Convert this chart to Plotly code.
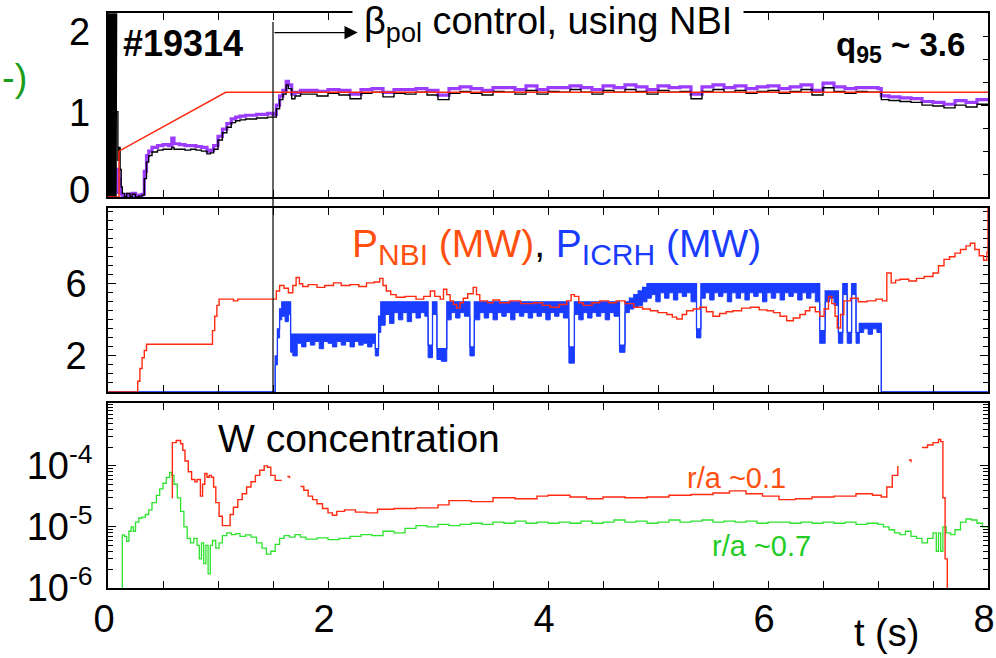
import plotly.graph_objects as go

# ---------------- data ----------------
T_CONTROL = 1.5  # start of beta_pol control (s)

# top panel: beta_pol (black = measured, purple = alt. measurement, red = reference)
t_burst = [0.000, 0.006, 0.012, 0.018, 0.024, 0.030, 0.036, 0.042, 0.048, 0.054,
           0.060, 0.066, 0.072, 0.078]
burst = [0, 2.3, 0, 2.3, 0, 2.3, 0, 2.3, 0, 2.3, 0, 2.3, 0, 2.3]

t_top = [0.08, 0.09, 0.10, 0.11, 0.12, 0.13, 0.15, 0.17, 0.20, 0.22,
         0.25, 0.28, 0.31, 0.33, 0.35, 0.37, 0.40, 0.45, 0.50, 0.55,
         0.58, 0.60, 0.65, 0.70, 0.75, 0.80, 0.85, 0.90, 0.93, 0.96,
         1.00, 1.04, 1.08, 1.12, 1.16, 1.20, 1.25, 1.30, 1.35, 1.40,
         1.45, 1.50, 1.53, 1.56, 1.59, 1.62, 1.64, 1.67, 1.70, 1.75,
         1.8, 1.9, 2.0, 2.1, 2.2, 2.3, 2.4, 2.5, 2.6, 2.7,
         2.8, 2.9, 3.0, 3.1, 3.2, 3.3, 3.4, 3.5, 3.6, 3.7,
         3.8, 3.9, 4.0, 4.1, 4.2, 4.3, 4.4, 4.5, 4.6, 4.7,
         4.8, 4.9, 5.0, 5.1, 5.2, 5.3, 5.4, 5.5, 5.6, 5.7,
         5.8, 5.9, 6.0, 6.1, 6.2, 6.3, 6.4, 6.5, 6.6, 6.7,
         6.8, 6.9, 7.0, 7.03, 7.1, 7.2, 7.3, 7.4, 7.5, 7.6,
         7.7, 7.8, 7.9, 8.0]
beta_black = [0.93, 0.40, 0.54, 0.30, 0.11, 0.04, 0.00, 0.04, 0.00, 0.03,
              0.00, 0.01, 0.02, 0.20, 0.38, 0.45, 0.49, 0.51, 0.52, 0.52,
              0.54, 0.52, 0.52, 0.51, 0.52, 0.51, 0.50, 0.47, 0.48, 0.52,
              0.62, 0.70, 0.76, 0.81, 0.83, 0.84, 0.85, 0.85, 0.86, 0.86,
              0.87, 0.87, 0.96, 1.06, 1.12, 1.22, 1.18, 1.07, 1.10, 1.12,
              1.12, 1.10, 1.13, 1.11, 1.07, 1.13, 1.14, 1.09, 1.13, 1.12,
              1.14, 1.11, 1.06, 1.13, 1.15, 1.13, 1.11, 1.15, 1.14, 1.12,
              1.16, 1.12, 1.15, 1.14, 1.17, 1.14, 1.12, 1.16, 1.14, 1.17,
              1.15, 1.12, 1.16, 1.14, 1.15, 1.07, 1.15, 1.17, 1.14, 1.16,
              1.13, 1.15, 1.16, 1.13, 1.15, 1.17, 1.11, 1.19, 1.15, 1.13,
              1.15, 1.14, 1.14, 1.06, 1.05, 1.04, 1.03, 1.00, 0.99, 0.97,
              1.00, 0.98, 1.01, 1.00]
beta_purple = [0.05, 0.30, 0.20, 0.10, 0.03, 0.00, 0.00, 0.03, 0.00, 0.04,
               0.00, 0.02, 0.03, 0.28, 0.45, 0.50, 0.54, 0.56, 0.57, 0.56,
               0.64, 0.58, 0.57, 0.56, 0.56, 0.55, 0.54, 0.50, 0.51, 0.56,
               0.66, 0.74, 0.80, 0.85, 0.87, 0.88, 0.89, 0.89, 0.90, 0.90,
               0.91, 0.90, 1.00, 1.10, 1.16, 1.26, 1.22, 1.12, 1.14, 1.16,
               1.16, 1.15, 1.17, 1.16, 1.12, 1.17, 1.18, 1.14, 1.17, 1.17,
               1.18, 1.16, 1.11, 1.18, 1.20, 1.18, 1.16, 1.19, 1.19, 1.17,
               1.21, 1.17, 1.19, 1.19, 1.21, 1.19, 1.17, 1.21, 1.19, 1.22,
               1.20, 1.17, 1.21, 1.19, 1.20, 1.12, 1.20, 1.22, 1.19, 1.21,
               1.18, 1.20, 1.21, 1.18, 1.20, 1.22, 1.16, 1.24, 1.20, 1.18,
               1.19, 1.19, 1.18, 1.10, 1.09, 1.08, 1.07, 1.04, 1.03, 1.01,
               1.05, 1.03, 1.06, 1.05]
t_ref = [0.0, 0.1, 0.1, 1.07, 8.0]
beta_ref = [0.0, 0.0, 0.5, 1.14, 1.14]

# middle panel: heating powers (MW)
t_nbi = [0, 0.25, 0.27, 0.29, 0.31, 0.33, 0.35, 0.93, 0.95, 0.97,
         0.99, 1.01, 1.14, 1.18, 1.5, 1.53, 1.56, 1.6, 1.64, 1.68,
         1.71, 1.74, 1.77, 1.82, 1.9, 1.97, 2.05, 2.12, 2.2, 2.28,
         2.35, 2.42, 2.47, 2.5, 2.53, 2.57, 2.62, 2.7, 2.8, 2.87,
         2.93, 2.97, 3.02, 3.05, 3.08, 3.11, 3.14, 3.17, 3.2, 3.23,
         3.27, 3.32, 3.35, 3.38, 3.45, 3.5, 3.56, 3.65, 3.75, 3.87,
         3.95, 4.02, 4.1, 4.17, 4.21, 4.24, 4.28, 4.32, 4.4, 4.47,
         4.55, 4.62, 4.7, 4.78, 4.86, 4.93, 5.0, 5.08, 5.13, 5.17,
         5.22, 5.26, 5.32, 5.38, 5.44, 5.5, 5.56, 5.62, 5.68, 5.76,
         5.84, 5.92, 5.99, 6.05, 6.11, 6.17, 6.23, 6.29, 6.34, 6.38,
         6.43, 6.47, 6.51, 6.55, 6.58, 6.61, 6.63, 6.66, 6.69, 6.75,
         6.82, 6.9, 6.98, 7.04, 7.08, 7.12, 7.16, 7.2, 7.28, 7.35,
         7.42, 7.5, 7.55, 7.6, 7.65, 7.7, 7.75, 7.8, 7.84, 7.88,
         7.92, 7.96, 7.99, 8.0]
p_nbi = [0, 0, 0.6, 1.3, 1.9, 2.3, 2.65, 2.65, 3.4, 4.2,
         4.8, 5.15, 5.05, 5.15, 5.15, 5.6, 5.9, 5.75, 5.5, 5.9,
         6.35, 6.0, 5.85, 5.95, 5.8, 5.9, 6.05, 5.9, 5.95, 5.85,
         6.05, 6.1, 6.3, 5.9, 5.6, 5.4, 5.25, 5.3, 5.15, 5.3,
         5.6, 5.3, 5.15, 5.7, 5.4, 5.05, 4.85, 4.65, 4.95, 5.2,
         5.45, 5.8, 5.4, 5.05, 4.95, 5.1, 4.95, 5.05, 4.9, 4.95,
         4.8, 4.7, 4.85, 5.05, 5.4, 5.3, 4.95, 4.8, 4.95, 5.05,
         4.95, 5.05, 4.9, 4.7, 4.6, 4.5, 4.4, 4.3, 4.15, 4.05,
         4.3, 4.5, 4.6, 4.7, 4.45, 4.2, 4.35, 4.45, 4.5, 4.65,
         4.7, 4.55, 4.5, 4.4, 4.2, 3.95, 4.1, 4.3, 4.5, 4.7,
         4.45, 4.2, 4.6, 5.3, 4.9, 4.2, 3.55, 4.3, 5.05, 5.2,
         5.0, 5.05, 5.15, 5.05, 6.6, 6.05, 6.2, 6.25, 6.15, 6.3,
         6.4, 6.6, 7.0, 7.35, 7.5, 7.7, 7.9, 8.1, 8.25, 7.9,
         7.55, 7.3, 7.75, 10.5]

t_icrh = [0.00, 1.50, 1.52, 1.54, 1.56, 1.58, 1.61, 1.64, 1.66, 1.68,
          1.72, 1.76, 1.80, 1.84, 1.88, 1.92, 1.96, 2.00, 2.04, 2.08,
          2.12, 2.16, 2.20, 2.24, 2.28, 2.32, 2.36, 2.40, 2.43, 2.46,
          2.48, 2.52, 2.56, 2.60, 2.64, 2.68, 2.72, 2.76, 2.80, 2.84,
          2.88, 2.91, 2.95, 2.99, 3.03, 3.08, 3.12, 3.16, 3.20, 3.24,
          3.29, 3.33, 3.38, 3.42, 3.46, 3.50, 3.54, 3.58, 3.62, 3.66,
          3.70, 3.74, 3.78, 3.82, 3.86, 3.90, 3.94, 3.98, 4.02, 4.06,
          4.10, 4.14, 4.19, 4.24, 4.28, 4.32, 4.36, 4.40, 4.44, 4.48,
          4.52, 4.56, 4.60, 4.65, 4.70, 4.74, 4.78, 4.82, 4.86, 4.90,
          4.94, 4.98, 5.02, 5.06, 5.10, 5.14, 5.18, 5.22, 5.26, 5.30,
          5.35, 5.39, 5.43, 5.47, 5.51, 5.55, 5.59, 5.63, 5.67, 5.71,
          5.75, 5.79, 5.83, 5.87, 5.91, 5.95, 5.99, 6.03, 6.07, 6.11,
          6.15, 6.19, 6.23, 6.27, 6.31, 6.35, 6.39, 6.43, 6.47, 6.52,
          6.56, 6.60, 6.64, 6.68, 6.72, 6.76, 6.80, 6.83, 6.87, 6.91,
          6.95, 6.99, 7.03, 8.00]
p_icrh_hi = [0, 0, 2.0, 3.5, 4.6, 5.0, 5.0, 5.0, 3.2, 3.2,
             3.2, 3.2, 3.2, 3.2, 3.2, 3.2, 3.2, 3.2, 3.2, 3.2,
             3.2, 3.2, 3.2, 3.2, 3.2, 3.2, 3.2, 3.2, 2.4, 4.2,
             5.0, 5.0, 5.0, 5.0, 5.0, 5.0, 5.0, 5.0, 5.0, 5.0,
             5.0, 2.6, 5.0, 2.4, 2.4, 5.0, 5.0, 5.0, 5.0, 5.0,
             2.5, 5.0, 5.0, 5.0, 5.0, 5.0, 5.0, 5.0, 5.0, 5.0,
             5.0, 5.0, 5.0, 5.0, 5.0, 5.0, 5.0, 5.0, 5.0, 5.0,
             5.0, 5.0, 2.5, 5.0, 5.0, 5.0, 5.0, 5.0, 5.0, 5.0,
             5.0, 5.0, 5.0, 2.6, 5.0, 5.2, 5.4, 5.6, 5.8, 6.0,
             6.0, 6.0, 6.0, 6.0, 6.0, 6.0, 6.0, 6.0, 6.0, 6.0,
             3.5, 6.0, 6.0, 6.0, 6.0, 6.0, 6.0, 6.0, 6.0, 6.0,
             6.0, 6.0, 6.0, 6.0, 6.0, 6.0, 6.0, 6.0, 6.0, 6.0,
             6.0, 6.0, 6.0, 6.0, 6.0, 6.0, 6.0, 6.0, 3.4, 5.6,
             5.6, 5.6, 3.3, 6.0, 3.3, 6.0, 3.3, 3.8, 3.8, 3.8,
             3.8, 3.8, 0, 0]
p_icrh_lo = [0, 0, 1.5, 3.0, 4.0, 4.2, 3.9, 4.3, 2.2, 2.0,
             2.7, 2.5, 2.8, 2.6, 2.8, 2.4, 2.8, 2.7, 2.5, 2.8,
             2.6, 2.8, 2.5, 2.8, 2.6, 2.7, 2.5, 2.7, 2.0, 3.3,
             3.7, 4.3, 3.8, 4.4, 4.0, 4.4, 3.9, 4.4, 4.1, 4.4,
             4.2, 1.9, 4.3, 1.8, 1.7, 4.0, 4.4, 4.1, 4.4, 4.2,
             2.0, 4.0, 4.4, 4.1, 4.4, 4.0, 4.4, 4.2, 4.4, 4.0,
             4.4, 4.2, 4.4, 4.1, 4.4, 4.2, 4.4, 4.0, 4.4, 4.2,
             4.4, 4.1, 1.6, 4.3, 4.0, 4.4, 4.1, 4.4, 4.2, 4.4,
             4.0, 4.4, 4.2, 2.2, 4.4, 4.6, 4.7, 4.8, 5.0, 5.2,
             5.4, 5.0, 5.5, 5.2, 5.5, 5.1, 5.5, 5.3, 5.5, 5.0,
             3.0, 5.2, 5.5, 5.1, 5.5, 5.3, 5.5, 5.0, 5.5, 5.2,
             5.5, 5.1, 5.5, 5.3, 5.5, 5.0, 5.5, 5.2, 5.5, 5.1,
             5.5, 5.3, 5.5, 5.1, 5.5, 5.2, 5.5, 5.0, 2.7, 5.0,
             5.2, 4.8, 2.7, 5.4, 2.7, 5.4, 2.7, 3.3, 3.5, 3.2,
             3.5, 3.3, 0, 0]

# bottom panel: W concentration
t_w01 = [0.58, 0.585, 0.62, 0.66, 0.68, 0.70, 0.73, 0.76, 0.79, 0.81,
         0.84, 0.86, 0.88, 0.90, 0.92, 0.94, 0.96, 0.98, 1.01, 1.04,
         1.08, 1.11, 1.14, 1.18, 1.22, 1.26, 1.30, 1.34, 1.38, 1.42,
         1.45, 1.48, 1.52, 1.58, 1.61, 1.63, 1.65, 1.67, 1.75, 1.78,
         1.82, 1.86, 1.90, 1.95, 2.00, 2.04, 2.08, 2.15, 2.25, 2.35,
         2.45, 2.6, 2.8, 3.0, 3.1, 3.3, 3.5, 3.7, 3.9, 4.0,
         4.2, 4.35, 4.5, 4.7, 4.9, 5.1, 5.3, 5.5, 5.65, 5.8,
         5.95, 6.1, 6.25, 6.4, 6.6, 6.8, 6.95, 7.03, 7.08, 7.13,
         7.18, 7.22, 7.28, 7.30, 7.33, 7.40, 7.45, 7.50, 7.55, 7.57,
         7.59, 7.61, 7.63]
w_01 = [3.0e-5, 2.4e-4, 2.6e-4, 2.3e-4, 1.8e-4, 1.2e-4, 8e-5, 6e-5, 5.5e-5, 6e-5,
        3.2e-5, 5e-5, 7.5e-5, 6.5e-5, 7.0e-5, 6.5e-5, 4.5e-5, 2.5e-5, 1.5e-5, 1.05e-5,
        1.05e-5, 1.6e-5, 2.1e-5, 2.8e-5, 3.5e-5, 4.5e-5, 5.5e-5, 7e-5, 8.5e-5, 1.0e-4,
        9.5e-5, 7e-5, 5.8e-5, 5.8e-5, None, 6.7e-5, 6.3e-5, None, 4.6e-5, 4.0e-5,
        3.2e-5, 2.8e-5, 2.4e-5, 2.0e-5, 1.7e-5, 1.55e-5, 1.8e-5, 1.9e-5, 1.75e-5, 1.7e-5,
        1.95e-5, 2.0e-5, 2.05e-5, 2.3e-5, 2.7e-5, 2.6e-5, 3.0e-5, 2.9e-5, 3.2e-5, 3.3e-5,
        3.1e-5, 2.9e-5, 3.1e-5, 3.0e-5, 3.1e-5, 3.3e-5, 3.4e-5, 3.6e-5, 3.9e-5, 3.5e-5,
        3.2e-5, 2.8e-5, 2.9e-5, 3.1e-5, 3.2e-5, 3.5e-5, 3.3e-5, 3.1e-5, 4.5e-5, 7e-5,
        1.0e-4, None, 1.25e-4, 1.15e-4, None, 2.0e-4, 2.2e-4, 2.4e-4, 2.7e-4, 2.5e-4,
        3e-5, 3e-6, 8e-7]

t_w07 = [0.12, 0.13, 0.15, 0.17, 0.19, 0.21, 0.23, 0.25, 0.28, 0.31,
         0.34, 0.37, 0.40, 0.44, 0.47, 0.50, 0.53, 0.56, 0.58, 0.60,
         0.63, 0.66, 0.69, 0.72, 0.75, 0.78, 0.81, 0.83, 0.85, 0.87,
         0.89, 0.91, 0.93, 0.95, 0.98, 1.01, 1.04, 1.08, 1.12, 1.16,
         1.20, 1.25, 1.30, 1.35, 1.40, 1.44, 1.48, 1.52, 1.56, 1.60,
         1.65, 1.70, 1.75, 1.80, 1.90, 2.00, 2.1, 2.2, 2.3, 2.4,
         2.5, 2.6, 2.7, 2.8, 2.9, 3.0, 3.1, 3.2, 3.3, 3.4,
         3.5, 3.6, 3.7, 3.8, 3.9, 4.0, 4.1, 4.2, 4.3, 4.4,
         4.5, 4.6, 4.7, 4.8, 4.9, 5.0, 5.1, 5.2, 5.3, 5.4,
         5.5, 5.6, 5.7, 5.8, 5.9, 6.0, 6.1, 6.2, 6.3, 6.4,
         6.5, 6.6, 6.7, 6.8, 6.9, 7.0, 7.05, 7.1, 7.15, 7.2,
         7.25, 7.3, 7.35, 7.4, 7.45, 7.5, 7.53, 7.55, 7.57, 7.59,
         7.62, 7.66, 7.7, 7.75, 7.8, 7.85, 7.9, 7.95, 8.0]
w_07 = [8e-7, 7.4e-6, 7e-6, 5.8e-6, 8.5e-6, 1.0e-5, 8.5e-6, 1.2e-5, 1.4e-5, 1.45e-5,
        1.6e-5, 1.9e-5, 2.5e-5, 3.3e-5, 4.2e-5, 5.2e-5, 6.5e-5, 7.8e-5, 7.0e-5, 5e-5,
        3e-5, 1.8e-5, 1.0e-5, 6.5e-6, 5.5e-6, 6.5e-6, 5e-6, 3e-6, 5.5e-6, 2.5e-6,
        5e-6, 1.7e-6, 5e-6, 6e-6, 4.5e-6, 5.5e-6, 7.2e-6, 8e-6, 7.5e-6, 7.8e-6,
        7e-6, 7.4e-6, 6.8e-6, 5.5e-6, 4.5e-6, 3.6e-6, 4.0e-6, 5.2e-6, 6.5e-6, 7.2e-6,
        6.8e-6, 7.5e-6, 6.8e-6, 6.3e-6, 6.6e-6, 6.2e-6, 6.5e-6, 7.0e-6, 7.5e-6, 7.2e-6,
        8.5e-6, 8.0e-6, 9.5e-6, 1.05e-5, 1.0e-5, 1.1e-5, 1.05e-5, 1.1e-5, 1.15e-5, 1.1e-5,
        1.2e-5, 1.15e-5, 1.25e-5, 1.15e-5, 1.2e-5, 1.15e-5, 1.2e-5, 1.15e-5, 1.25e-5, 1.15e-5,
        1.2e-5, 1.3e-5, 1.2e-5, 1.25e-5, 1.15e-5, 1.2e-5, 1.3e-5, 1.2e-5, 1.25e-5, 1.3e-5,
        1.2e-5, 1.25e-5, 1.2e-5, 1.25e-5, 1.15e-5, 1.2e-5, 1.2e-5, 1.15e-5, 1.2e-5, 1.15e-5,
        1.2e-5, 1.15e-5, 1.2e-5, 1.1e-5, 1.15e-5, 1.1e-5, 1.0e-5, 9e-6, 8e-6, 7.5e-6,
        8.5e-6, 7e-6, 6.5e-6, 5.5e-6, 6.5e-6, 8e-6, 4e-6, 8e-6, 4e-6, 1.0e-5,
        8e-6, 7.5e-6, 9e-6, 1.2e-5, 1.35e-5, 1.3e-5, 1.15e-5, 1.0e-5, 9.5e-6]

x_ticks = [0, 2, 4, 6, 8]
y1_ticks = [0, 1, 2]
y1_labels = ["0", "1", "2"]
y2_ticks = [2, 6]
y2_labels = ["2", "6"]
y3_ticks = [1e-6, 1e-5, 1e-4]
y3_labels = ["10<sup>-6</sup>", "10<sup>-5</sup>", "10<sup>-4</sup>"]

# ---------------- figure ----------------
W, H = 996, 658
FONT = "Liberation Sans, Arial, Helvetica, sans-serif"


def px(x):
    return x / W


def py(y):
    return 1 - y / H


RED = "#ff2a10"
ORANGE = "#ff5010"
BLUE = "#1a3cff"
GREEN = "#2ee32e"
PURPLE = "#9b3cff"

fig = go.Figure()

# top panel
fig.add_trace(go.Scatter(x=t_top, y=beta_purple, mode="lines", line=dict(color=PURPLE, width=3.2, shape="hv"),
                         xaxis="x", yaxis="y"))
fig.add_trace(go.Scatter(x=t_top, y=beta_black, mode="lines", line=dict(color="black", width=1.4, shape="hv"),
                         xaxis="x", yaxis="y"))
fig.add_trace(go.Scatter(x=t_burst, y=burst, mode="lines", line=dict(color="black", width=1.6),
                         xaxis="x", yaxis="y"))
fig.add_trace(go.Scatter(x=t_ref, y=beta_ref, mode="lines", line=dict(color=RED, width=1.5),
                         xaxis="x", yaxis="y"))

# middle panel
fig.add_trace(go.Scatter(x=t_icrh, y=p_icrh_lo, mode="lines", line=dict(color=BLUE, width=1.0, shape="hv"),
                         xaxis="x2", yaxis="y2"))
fig.add_trace(go.Scatter(x=t_icrh, y=p_icrh_hi, mode="lines", line=dict(color=BLUE, width=1.3, shape="hv"),
                         fill="tonexty", fillcolor=BLUE, xaxis="x2", yaxis="y2"))
fig.add_trace(go.Scatter(x=t_nbi, y=p_nbi, mode="lines", line=dict(color=RED, width=1.4, shape="hv"),
                         xaxis="x2", yaxis="y2"))

# bottom panel
fig.add_trace(go.Scatter(x=t_w07, y=w_07, mode="lines", line=dict(color=GREEN, width=1.3, shape="hv"),
                         xaxis="x3", yaxis="y3"))
fig.add_trace(go.Scatter(x=t_w01, y=w_01, mode="lines", line=dict(color=RED, width=1.4, shape="hv"),
                         connectgaps=False, xaxis="x3", yaxis="y3"))

tickfont = dict(family=FONT, size=38, color="black")
xdom = [px(108), px(988)]


def xaxis(anchor, labels):
    return dict(domain=xdom, anchor=anchor, range=[0, 8], showline=True, linecolor="black", linewidth=1.5,
                mirror="ticks", ticks="inside", tickvals=x_ticks, ticklen=7, tickwidth=1.2, tickcolor="black",
                minor=dict(dtick=0.5, tick0=0, ticks="inside", ticklen=7, tickwidth=1.2, tickcolor="black"),
                showticklabels=labels, tickfont=tickfont, showgrid=False, zeroline=False,
                automargin=False, ticklabelstandoff=-3, ticklabelshift=-4, ticklabeloverflow="allow")


minor_log = [m * 10.0 ** e for e in (-6, -5, -4) for m in range(2, 10)] + [1e-3]

fig.update_layout(
    width=W, height=H,
    margin=dict(l=0, r=0, t=0, b=0),
    paper_bgcolor="white", plot_bgcolor="white",
    showlegend=False,
    font=dict(family=FONT, color="black"),
    xaxis=xaxis("y", False),
    xaxis2=xaxis("y2", False),
    xaxis3=xaxis("y3", True),
    yaxis=dict(domain=[py(197), py(13.3)], anchor="x", range=[0, 2], showline=True, linecolor="black",
               linewidth=1.5, mirror="ticks", ticks="inside", tickvals=y1_ticks,
               ticklen=7, tickwidth=1.2, tickcolor="black", showticklabels=False,
               minor=dict(dtick=0.25, tick0=0, ticks="inside", ticklen=5, tickwidth=1, tickcolor="black"),
               showgrid=False, zeroline=False, automargin=False),
    yaxis2=dict(domain=[py(392), py(208)], anchor="x2", range=[0, 10.2], showline=True, linecolor="black",
                linewidth=1.5, mirror="ticks", ticks="inside", tickvals=y2_ticks, ticktext=y2_labels,
                ticklen=8, tickwidth=1.2, tickcolor="black", layer="below traces",
                minor=dict(dtick=0.5, tick0=0, ticks="inside", ticklen=5, tickwidth=1, tickcolor="black"),
                tickfont=tickfont, showgrid=False, zeroline=False, automargin=False, ticklabelstandoff=12,
                ticklabeloverflow="allow"),
    yaxis3=dict(domain=[py(588), py(403)], anchor="x3", type="log", range=[-6, -2.97], showline=True,
                linecolor="black", linewidth=1.5, mirror="ticks", ticks="inside", tickvals=y3_ticks,
                ticktext=y3_labels, ticklen=8, tickwidth=1.2, tickcolor="black",
                minor=dict(tickvals=minor_log, ticks="inside", ticklen=5, tickwidth=1, tickcolor="black"),
                tickfont=tickfont, showgrid=False, zeroline=False, automargin=False, ticklabelstandoff=6,
                ticklabeloverflow="allow"),
)

# vertical marker at start of beta_pol control
fig.add_shape(type="line", xref="x", yref="paper", x0=T_CONTROL, x1=T_CONTROL, y0=py(392), y1=py(22),
              line=dict(color="black", width=1.2))

sub = "<sub><span style='font-size:{}px'>{}</span></sub>"
annotations = [
    dict(text="β" + sub.format(27, "pol") + " control, using NBI", xref="paper", yref="paper",
         x=px(352), y=py(24), xanchor="left", yanchor="middle", showarrow=False, bgcolor="white",
         borderpad=11, font=dict(family=FONT, size=38, color="black")),
    dict(text="", xref="x", yref="y", x=2.27, y=1.79, axref="x", ayref="y", ax=T_CONTROL, ay=1.79,
         showarrow=True, arrowhead=2, arrowsize=2.2, arrowwidth=1.2, arrowcolor="black"),
    dict(text="<b>#19314</b>", xref="paper", yref="paper", x=px(121), y=py(43), xanchor="left",
         yanchor="middle", showarrow=False, font=dict(family=FONT, size=36, color="black")),
    dict(text="<b>q<sub>95</sub> ~ 3.6</b>", xref="paper", yref="paper", x=px(967), y=py(47),
         xanchor="right", yanchor="middle", showarrow=False, font=dict(family=FONT, size=33, color="black")),
    dict(text=f"<span style='color:{ORANGE}'>P" + sub.format(30, "NBI") + " (MW)</span>, "
              f"<span style='color:{BLUE}'>P" + sub.format(30, "ICRH") + " (MW)</span>",
         xref="paper", yref="paper", x=px(350), y=py(246), xanchor="left", yanchor="middle",
         showarrow=False, font=dict(family=FONT, size=39, color="black")),
    dict(text="W concentration", xref="paper", yref="paper", x=px(216), y=py(438), xanchor="left",
         yanchor="middle", showarrow=False, font=dict(family=FONT, size=39, color="black")),
    dict(text="r/a ~0.1", xref="paper", yref="paper", x=px(736), y=py(478), xanchor="center",
         yanchor="middle", showarrow=False, font=dict(family=FONT, size=29, color=ORANGE)),
    dict(text="r/a ~0.7", xref="paper", yref="paper", x=px(761), y=py(546), xanchor="center",
         yanchor="middle", showarrow=False, font=dict(family=FONT, size=29, color="#22cc22")),
    dict(text="t (s)", xref="paper", yref="paper", x=px(886), y=py(633), xanchor="center",
         yanchor="middle", showarrow=False, font=dict(family=FONT, size=38, color="black")),
    dict(text="-)", xref="paper", yref="paper", x=0, y=py(78), xanchor="left",
         yanchor="middle", showarrow=False, font=dict(family=FONT, size=38, color="#1a9c1a")),
]
# top-panel y tick labels (placed as in the original figure)
for val, lab, shift in zip(y1_ticks, y1_labels, [7, -8, -19]):
    annotations.append(dict(text=lab, xref="paper", yref="y", x=px(92), y=val, yshift=shift,
                            xanchor="right", yanchor="middle", showarrow=False,
                            font=dict(family=FONT, size=38, color="black")))
fig.update_layout(annotations=annotations)

fig.write_html("out.html")
